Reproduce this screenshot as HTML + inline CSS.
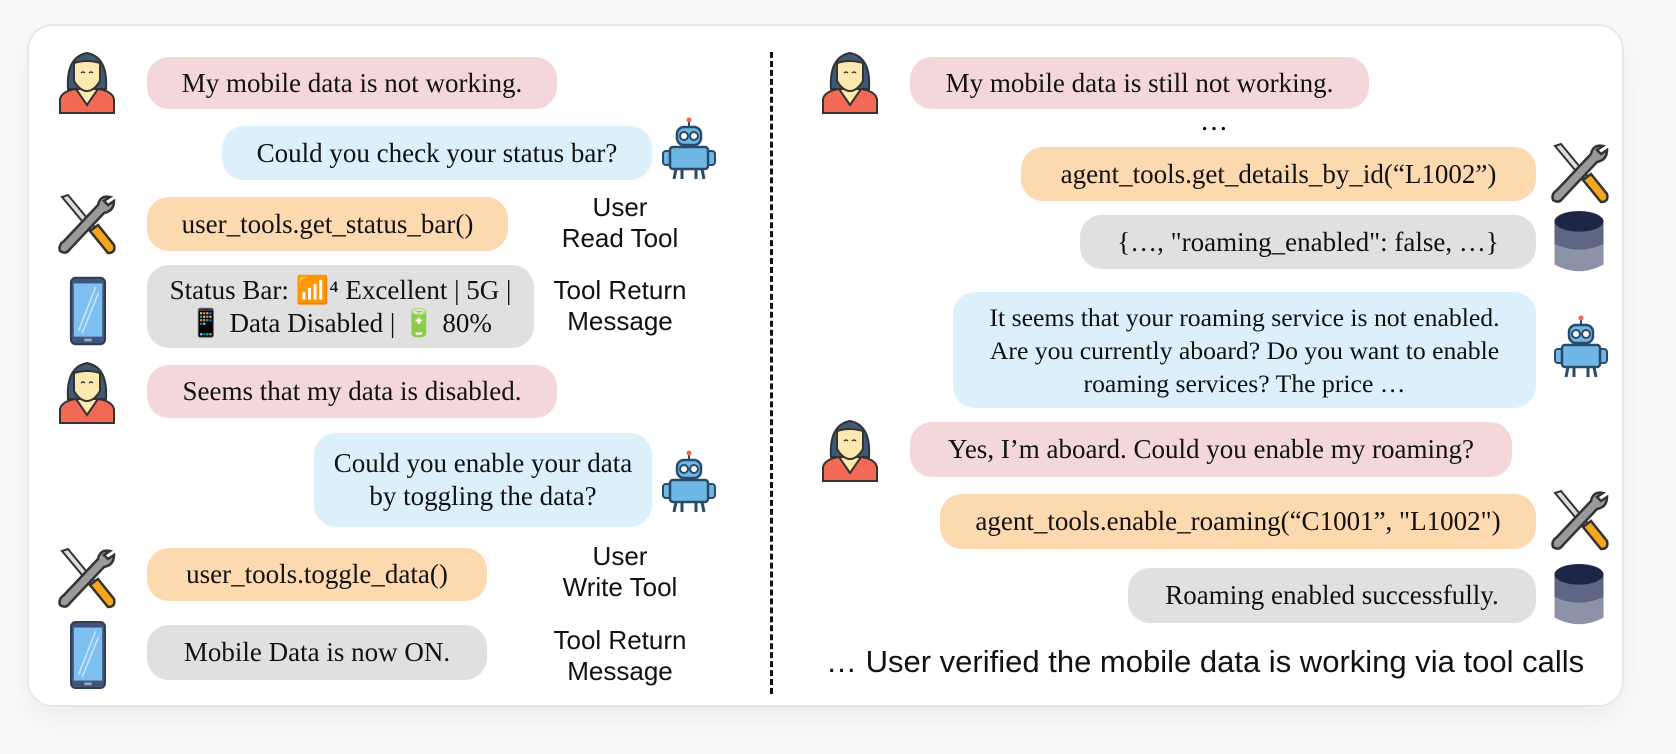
<!DOCTYPE html>
<html><head><meta charset="utf-8"><style>
html,body{margin:0;padding:0;background:#fafafb;}
body{width:1676px;height:754px;position:relative;overflow:hidden;font-family:"Liberation Serif",serif;}
.card{position:absolute;left:27px;top:24px;width:1597px;height:683px;background:#fff;border:2px solid #e3e8f0;border-radius:26px;box-sizing:border-box;box-shadow:0 12px 30px rgba(0,0,0,0.06);}
.b{position:absolute;border-radius:22px;display:flex;align-items:center;justify-content:center;text-align:center;font-size:27px;line-height:33px;color:#111;box-sizing:border-box;white-space:nowrap;}
.p{background:#f3d7da}.bl{background:#dcf0fc}.o{background:#fdd9b0}.g{background:#e0e0e0}
.lab{position:absolute;font-family:"Liberation Sans",sans-serif;font-size:26px;line-height:31px;text-align:center;width:180px;color:#111;}
.ic{position:absolute;}
.div{position:absolute;left:770px;top:52px;height:642px;border-left:3px dashed #111;}
</style></head><body>
<svg width="0" height="0" style="position:absolute">
<defs>
<symbol id="user" viewBox="0 0 66 66">
<path d="M14 40 Q12 8 33 4 Q54 8 52 40 Z" fill="#3d5a74" stroke="#333" stroke-width="2"/>
<path d="M6 50 Q8 42 22 40 L44 40 Q58 42 60 50 L60 64 L6 64 Z" fill="#f26a55" stroke="#333" stroke-width="2"/>
<path d="M22 40 L33 56 L44 40 Z" fill="#fde8b0" stroke="#333" stroke-width="2"/>
<rect x="27" y="34" width="12" height="10" fill="#fde8b0"/>
<path d="M20 14 Q33 10 46 14 L46 32 Q40 42 33 42 Q26 42 20 32 Z" fill="#fde8b0" stroke="#333" stroke-width="2"/>
<path d="M27 24 q2 -2 4 0 M35 24 q2 -2 4 0" stroke="#333" stroke-width="1.5" fill="none"/>
</symbol>
<symbol id="bot" viewBox="0 0 60 64">
<line x1="30" y1="2" x2="30" y2="10" stroke="#2a4a6a" stroke-width="2"/><circle cx="30" cy="3" r="2.5" fill="#e65"/>
<rect x="18" y="10" width="24" height="18" rx="7" fill="#6fb8e6" stroke="#2a4a6a" stroke-width="2.5"/>
<circle cx="25" cy="19" r="4" fill="#fff" stroke="#2a4a6a" stroke-width="2"/><circle cx="35" cy="19" r="4" fill="#fff" stroke="#2a4a6a" stroke-width="2"/>
<rect x="4" y="34" width="8" height="14" rx="3" fill="#6fb8e6" stroke="#2a4a6a" stroke-width="2"/>
<rect x="48" y="34" width="8" height="14" rx="3" fill="#6fb8e6" stroke="#2a4a6a" stroke-width="2"/>
<rect x="11" y="30" width="38" height="22" rx="3" fill="#6fb8e6" stroke="#2a4a6a" stroke-width="2.5"/>
<path d="M17 52 L15 62 M23 52 L23 62 M37 52 L37 62 M43 52 L45 62" stroke="#2a4a6a" stroke-width="3"/>
</symbol>
<symbol id="tools" viewBox="0 0 66 66">
<path d="M8 6 L14 4 L52 50 L48 54 Z" fill="#ddd" stroke="#333" stroke-width="2"/>
<path d="M56 6 Q46 4 44 14 L10 50 Q4 54 6 60 Q12 64 16 58 L50 22 Q60 20 60 10 L54 14 L50 10 Z" fill="#9a9a9a" stroke="#333" stroke-width="2.5"/>
<path d="M36 40 L44 34 L60 54 Q62 62 54 62 Z" fill="#f5a71b" stroke="#333" stroke-width="2.5"/>
</symbol>
<symbol id="db" viewBox="0 0 56 70">
<path d="M2 12 L2 58 Q28 72 54 58 L54 12 Z" fill="#8c93a8"/>
<path d="M2 12 L2 36 Q28 48 54 36 L54 12 Z" fill="#5f6683"/>
<ellipse cx="28" cy="12" rx="26" ry="11" fill="#1f2547"/>
</symbol>
<symbol id="phone" viewBox="0 0 40 74">
<rect x="2" y="2" width="36" height="70" rx="5" fill="#41557a" stroke="#2d3d5a" stroke-width="2"/>
<rect x="5" y="8" width="30" height="56" fill="#7ec0f2"/>
<path d="M10 58 L28 12 M14 60 L31 18" stroke="#cfe8fb" stroke-width="1.5"/>
<rect x="16" y="66" width="8" height="3" rx="1" fill="#9ab"/>
</symbol>
</defs></svg>

<div class="card"></div>
<div class="div"></div>

<!-- LEFT -->
<svg class="ic" style="left:54px;top:48px" width="66" height="68"><use href="#user"/></svg>
<div class="b p" style="left:147px;top:57px;width:410px;height:52px">My mobile data is not working.</div>

<div class="b bl" style="left:222px;top:126px;width:430px;height:54px">Could you check your status bar?</div>
<svg class="ic" style="left:658px;top:117px" width="62" height="64"><use href="#bot"/></svg>

<svg class="ic" style="left:54px;top:191px" width="66" height="66"><use href="#tools"/></svg>
<div class="b o" style="left:147px;top:197px;width:361px;height:54px">user_tools.get_status_bar()</div>
<div class="lab" style="left:530px;top:192px">User<br>Read Tool</div>

<svg class="ic" style="left:69px;top:274px" width="38" height="74"><use href="#phone"/></svg>
<div class="b g" style="left:147px;top:265px;width:387px;height:83px">Status Bar: 📶⁴ Excellent | 5G |<br>📱 Data Disabled | 🔋 80%</div>
<div class="lab" style="left:530px;top:275px">Tool Return<br>Message</div>

<svg class="ic" style="left:54px;top:358px" width="66" height="68"><use href="#user"/></svg>
<div class="b p" style="left:147px;top:365px;width:410px;height:53px">Seems that my data is disabled.</div>

<div class="b bl" style="left:314px;top:433px;width:338px;height:94px">Could you enable your data<br>by toggling the data?</div>
<svg class="ic" style="left:658px;top:450px" width="62" height="64"><use href="#bot"/></svg>

<svg class="ic" style="left:54px;top:545px" width="66" height="66"><use href="#tools"/></svg>
<div class="b o" style="left:147px;top:548px;width:340px;height:53px">user_tools.toggle_data()</div>
<div class="lab" style="left:530px;top:541px">User<br>Write Tool</div>

<svg class="ic" style="left:69px;top:620px" width="38" height="70"><use href="#phone"/></svg>
<div class="b g" style="left:147px;top:625px;width:340px;height:55px">Mobile Data is now ON.</div>
<div class="lab" style="left:530px;top:625px">Tool Return<br>Message</div>

<!-- RIGHT -->
<svg class="ic" style="left:817px;top:48px" width="66" height="68"><use href="#user"/></svg>
<div class="b p" style="left:910px;top:57px;width:459px;height:52px">My mobile data is still not working.</div>
<div style="position:absolute;left:1194px;top:106px;width:40px;text-align:center;font-size:28px">…</div>

<div class="b o" style="left:1021px;top:147px;width:515px;height:54px">agent_tools.get_details_by_id(“L1002”)</div>
<svg class="ic" style="left:1547px;top:140px" width="66" height="66"><use href="#tools"/></svg>

<div class="b g" style="left:1080px;top:215px;width:456px;height:54px">{…, "roaming_enabled": false, …}</div>
<svg class="ic" style="left:1552px;top:210px" width="54" height="66"><use href="#db"/></svg>

<div class="b bl" style="left:953px;top:292px;width:583px;height:116px;font-size:25.7px">It seems that your roaming service is not enabled.<br>Are you currently aboard? Do you want to enable<br>roaming services? The price …</div>
<svg class="ic" style="left:1550px;top:315px" width="62" height="64"><use href="#bot"/></svg>

<svg class="ic" style="left:817px;top:416px" width="66" height="68"><use href="#user"/></svg>
<div class="b p" style="left:910px;top:422px;width:602px;height:55px">Yes, I’m aboard. Could you enable my roaming?</div>

<div class="b o" style="left:940px;top:494px;width:596px;height:55px">agent_tools.enable_roaming(“C1001”, "L1002")</div>
<svg class="ic" style="left:1547px;top:487px" width="66" height="66"><use href="#tools"/></svg>

<div class="b g" style="left:1128px;top:568px;width:408px;height:55px">Roaming enabled successfully.</div>
<svg class="ic" style="left:1552px;top:563px" width="54" height="66"><use href="#db"/></svg>

<div style="position:absolute;left:826px;top:643px;font-family:'Liberation Sans',sans-serif;font-size:31px;line-height:38px;color:#111;white-space:nowrap">… User verified the mobile data is working via tool calls</div>
</body></html>
